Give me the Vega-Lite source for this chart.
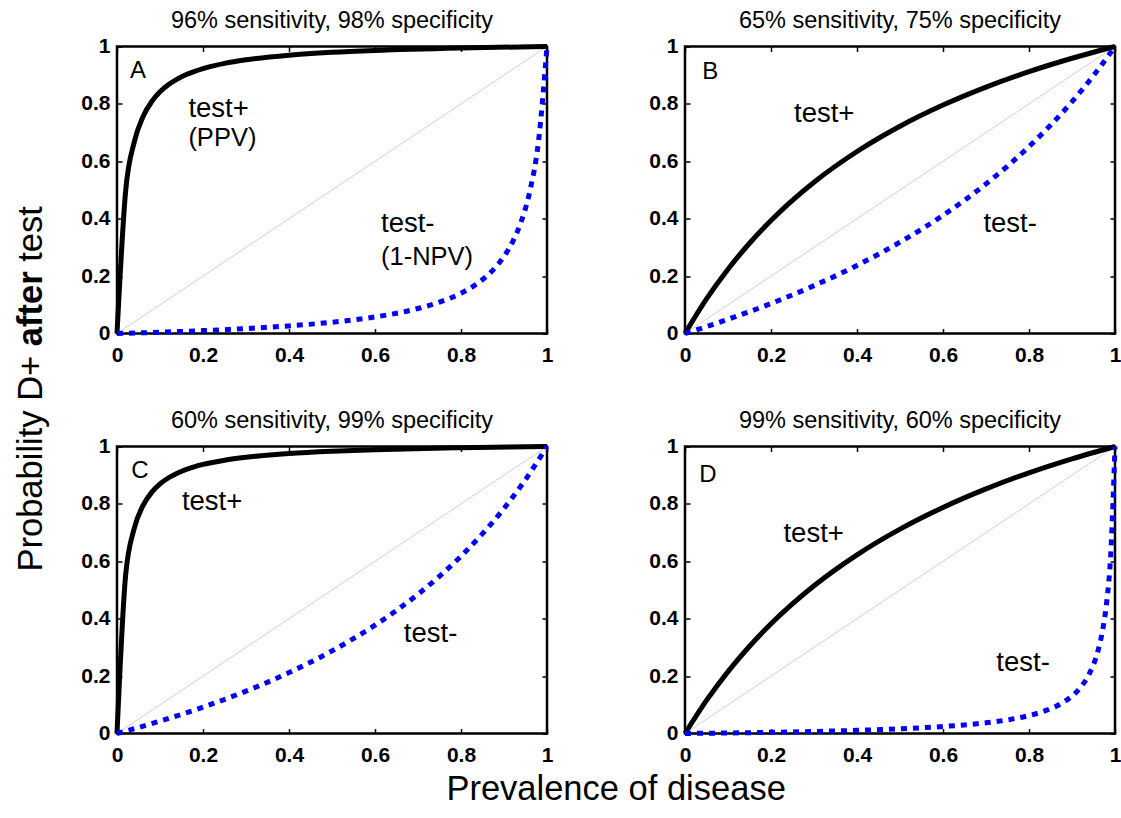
{
  "$schema": "https://vega.github.io/schema/vega-lite/v6.json",
  "padding": {"left": 0, "top": 7.5, "right": 0, "bottom": 4},
  "background": "white",
  "config": {
    "font": "Liberation Sans",
    "view": {"stroke": "black", "strokeWidth": 2.5},
    "axis": {
      "grid": false, "domain": false, "ticks": true, "tickSize": -5, "tickColor": "black", "tickWidth": 1.5,
      "labelFont": "Liberation Sans", "labelFontSize": 21, "labelFontWeight": "bold", "labelColor": "black",
      "labelFlush": false, "minExtent": 0
    },
    "axisX": {"labelPadding": 16},
    "axisY": {"labelPadding": 12},
    "title": {"font": "Liberation Sans", "fontSize": 23.5, "fontWeight": "normal", "color": "black", "baseline": "alphabetic", "offset": 3}
  },
  "title": {"text": "Prevalence of disease", "orient": "bottom", "fontSize": 34.5, "fontWeight": "normal", "baseline": "alphabetic", "offset": 33, "dx": 53, "anchor": "middle"},
  "datasets": {
    "ytitle": [
      {"text": "Probability D+", "part": "plain", "x": 0.7, "y": 0.2358},
      {"text": "after", "part": "bold", "x": 0.7, "y": 0.5638},
      {"text": "test", "part": "plain", "x": 0.7, "y": 0.6866}
    ],
    "labels": [
      {"panel": "A", "kind": "letter", "text": "A", "x": 0.03, "y": 0.889},
      {"panel": "A", "kind": "note", "text": "test+", "x": 0.166, "y": 0.753},
      {"panel": "A", "kind": "sub", "text": "(PPV)", "x": 0.166, "y": 0.652},
      {"panel": "A", "kind": "note", "text": "test-", "x": 0.614, "y": 0.352},
      {"panel": "A", "kind": "sub", "text": "(1-NPV)", "x": 0.614, "y": 0.24},
      {"panel": "B", "kind": "letter", "text": "B", "x": 0.04, "y": 0.886},
      {"panel": "B", "kind": "note", "text": "test+", "x": 0.2535, "y": 0.738},
      {"panel": "B", "kind": "note", "text": "test-", "x": 0.694, "y": 0.355},
      {"panel": "C", "kind": "letter", "text": "C", "x": 0.033, "y": 0.889},
      {"panel": "C", "kind": "note", "text": "test+", "x": 0.151, "y": 0.778},
      {"panel": "C", "kind": "note", "text": "test-", "x": 0.667, "y": 0.32},
      {"panel": "D", "kind": "letter", "text": "D", "x": 0.033, "y": 0.877},
      {"panel": "D", "kind": "note", "text": "test+", "x": 0.229, "y": 0.667},
      {"panel": "D", "kind": "note", "text": "test-", "x": 0.724, "y": 0.218}
    ],
    "diag": [{"p": 0, "v": 0}, {"p": 1, "v": 1}],
    "curves": [
      {"panel": "A", "series": "pos", "p": 0, "v": 0},
      {"panel": "A", "series": "pos", "p": 0.02, "v": 0.4948},
      {"panel": "A", "series": "pos", "p": 0.04, "v": 0.6667},
      {"panel": "A", "series": "pos", "p": 0.06, "v": 0.7539},
      {"panel": "A", "series": "pos", "p": 0.08, "v": 0.8067},
      {"panel": "A", "series": "pos", "p": 0.1, "v": 0.8421},
      {"panel": "A", "series": "pos", "p": 0.12, "v": 0.8675},
      {"panel": "A", "series": "pos", "p": 0.14, "v": 0.8865},
      {"panel": "A", "series": "pos", "p": 0.16, "v": 0.9014},
      {"panel": "A", "series": "pos", "p": 0.2, "v": 0.9231},
      {"panel": "A", "series": "pos", "p": 0.25, "v": 0.9412},
      {"panel": "A", "series": "pos", "p": 0.3, "v": 0.9536},
      {"panel": "A", "series": "pos", "p": 0.4, "v": 0.9697},
      {"panel": "A", "series": "pos", "p": 0.5, "v": 0.9796},
      {"panel": "A", "series": "pos", "p": 0.6, "v": 0.9863},
      {"panel": "A", "series": "pos", "p": 0.8, "v": 0.9948},
      {"panel": "A", "series": "pos", "p": 1, "v": 1},
      {"panel": "A", "series": "neg", "p": 0, "v": 0},
      {"panel": "A", "series": "neg", "p": 0.1, "v": 0.0045},
      {"panel": "A", "series": "neg", "p": 0.2, "v": 0.0101},
      {"panel": "A", "series": "neg", "p": 0.3, "v": 0.0172},
      {"panel": "A", "series": "neg", "p": 0.4, "v": 0.0265},
      {"panel": "A", "series": "neg", "p": 0.5, "v": 0.0392},
      {"panel": "A", "series": "neg", "p": 0.6, "v": 0.0577},
      {"panel": "A", "series": "neg", "p": 0.7, "v": 0.087},
      {"panel": "A", "series": "neg", "p": 0.75, "v": 0.1091},
      {"panel": "A", "series": "neg", "p": 0.8, "v": 0.1404},
      {"panel": "A", "series": "neg", "p": 0.84, "v": 0.1765},
      {"panel": "A", "series": "neg", "p": 0.88, "v": 0.2304},
      {"panel": "A", "series": "neg", "p": 0.9, "v": 0.2687},
      {"panel": "A", "series": "neg", "p": 0.92, "v": 0.3194},
      {"panel": "A", "series": "neg", "p": 0.94, "v": 0.39},
      {"panel": "A", "series": "neg", "p": 0.96, "v": 0.4949},
      {"panel": "A", "series": "neg", "p": 0.98, "v": 0.6667},
      {"panel": "A", "series": "neg", "p": 1, "v": 1},
      {"panel": "B", "series": "pos", "p": 0, "v": 0},
      {"panel": "B", "series": "pos", "p": 0.05, "v": 0.1204},
      {"panel": "B", "series": "pos", "p": 0.1, "v": 0.2241},
      {"panel": "B", "series": "pos", "p": 0.15, "v": 0.3145},
      {"panel": "B", "series": "pos", "p": 0.2, "v": 0.3939},
      {"panel": "B", "series": "pos", "p": 0.3, "v": 0.527},
      {"panel": "B", "series": "pos", "p": 0.4, "v": 0.6341},
      {"panel": "B", "series": "pos", "p": 0.5, "v": 0.7222},
      {"panel": "B", "series": "pos", "p": 0.6, "v": 0.7959},
      {"panel": "B", "series": "pos", "p": 0.7, "v": 0.8585},
      {"panel": "B", "series": "pos", "p": 0.8, "v": 0.9123},
      {"panel": "B", "series": "pos", "p": 0.9, "v": 0.959},
      {"panel": "B", "series": "pos", "p": 1, "v": 1},
      {"panel": "B", "series": "neg", "p": 0, "v": 0},
      {"panel": "B", "series": "neg", "p": 0.1, "v": 0.0493},
      {"panel": "B", "series": "neg", "p": 0.2, "v": 0.1045},
      {"panel": "B", "series": "neg", "p": 0.3, "v": 0.1667},
      {"panel": "B", "series": "neg", "p": 0.4, "v": 0.2373},
      {"panel": "B", "series": "neg", "p": 0.5, "v": 0.3182},
      {"panel": "B", "series": "neg", "p": 0.6, "v": 0.4118},
      {"panel": "B", "series": "neg", "p": 0.7, "v": 0.5213},
      {"panel": "B", "series": "neg", "p": 0.8, "v": 0.6512},
      {"panel": "B", "series": "neg", "p": 0.9, "v": 0.8077},
      {"panel": "B", "series": "neg", "p": 0.95, "v": 0.8986},
      {"panel": "B", "series": "neg", "p": 1, "v": 1},
      {"panel": "C", "series": "pos", "p": 0, "v": 0},
      {"panel": "C", "series": "pos", "p": 0.02, "v": 0.5505},
      {"panel": "C", "series": "pos", "p": 0.04, "v": 0.7143},
      {"panel": "C", "series": "pos", "p": 0.06, "v": 0.793},
      {"panel": "C", "series": "pos", "p": 0.08, "v": 0.8392},
      {"panel": "C", "series": "pos", "p": 0.1, "v": 0.8696},
      {"panel": "C", "series": "pos", "p": 0.12, "v": 0.8911},
      {"panel": "C", "series": "pos", "p": 0.14, "v": 0.9071},
      {"panel": "C", "series": "pos", "p": 0.16, "v": 0.9195},
      {"panel": "C", "series": "pos", "p": 0.2, "v": 0.9375},
      {"panel": "C", "series": "pos", "p": 0.25, "v": 0.9524},
      {"panel": "C", "series": "pos", "p": 0.3, "v": 0.9626},
      {"panel": "C", "series": "pos", "p": 0.4, "v": 0.9756},
      {"panel": "C", "series": "pos", "p": 0.5, "v": 0.9836},
      {"panel": "C", "series": "pos", "p": 0.6, "v": 0.989},
      {"panel": "C", "series": "pos", "p": 0.8, "v": 0.9959},
      {"panel": "C", "series": "pos", "p": 1, "v": 1},
      {"panel": "C", "series": "neg", "p": 0, "v": 0},
      {"panel": "C", "series": "neg", "p": 0.1, "v": 0.043},
      {"panel": "C", "series": "neg", "p": 0.2, "v": 0.0917},
      {"panel": "C", "series": "neg", "p": 0.3, "v": 0.1476},
      {"panel": "C", "series": "neg", "p": 0.4, "v": 0.2122},
      {"panel": "C", "series": "neg", "p": 0.5, "v": 0.2878},
      {"panel": "C", "series": "neg", "p": 0.6, "v": 0.3774},
      {"panel": "C", "series": "neg", "p": 0.7, "v": 0.4853},
      {"panel": "C", "series": "neg", "p": 0.8, "v": 0.6178},
      {"panel": "C", "series": "neg", "p": 0.9, "v": 0.7843},
      {"panel": "C", "series": "neg", "p": 0.95, "v": 0.8848},
      {"panel": "C", "series": "neg", "p": 1, "v": 1},
      {"panel": "D", "series": "pos", "p": 0, "v": 0},
      {"panel": "D", "series": "pos", "p": 0.05, "v": 0.1153},
      {"panel": "D", "series": "pos", "p": 0.1, "v": 0.2157},
      {"panel": "D", "series": "pos", "p": 0.15, "v": 0.304},
      {"panel": "D", "series": "pos", "p": 0.2, "v": 0.3822},
      {"panel": "D", "series": "pos", "p": 0.3, "v": 0.5147},
      {"panel": "D", "series": "pos", "p": 0.4, "v": 0.6226},
      {"panel": "D", "series": "pos", "p": 0.5, "v": 0.7122},
      {"panel": "D", "series": "pos", "p": 0.6, "v": 0.7878},
      {"panel": "D", "series": "pos", "p": 0.7, "v": 0.8524},
      {"panel": "D", "series": "pos", "p": 0.8, "v": 0.9083},
      {"panel": "D", "series": "pos", "p": 0.9, "v": 0.957},
      {"panel": "D", "series": "pos", "p": 1, "v": 1},
      {"panel": "D", "series": "neg", "p": 0, "v": 0},
      {"panel": "D", "series": "neg", "p": 0.1, "v": 0.0018},
      {"panel": "D", "series": "neg", "p": 0.2, "v": 0.0041},
      {"panel": "D", "series": "neg", "p": 0.3, "v": 0.0071},
      {"panel": "D", "series": "neg", "p": 0.4, "v": 0.011},
      {"panel": "D", "series": "neg", "p": 0.5, "v": 0.0164},
      {"panel": "D", "series": "neg", "p": 0.6, "v": 0.0244},
      {"panel": "D", "series": "neg", "p": 0.7, "v": 0.0374},
      {"panel": "D", "series": "neg", "p": 0.75, "v": 0.0476},
      {"panel": "D", "series": "neg", "p": 0.8, "v": 0.0625},
      {"panel": "D", "series": "neg", "p": 0.84, "v": 0.0805},
      {"panel": "D", "series": "neg", "p": 0.88, "v": 0.1089},
      {"panel": "D", "series": "neg", "p": 0.9, "v": 0.1304},
      {"panel": "D", "series": "neg", "p": 0.92, "v": 0.1608},
      {"panel": "D", "series": "neg", "p": 0.94, "v": 0.2071},
      {"panel": "D", "series": "neg", "p": 0.96, "v": 0.2857},
      {"panel": "D", "series": "neg", "p": 0.97, "v": 0.3502},
      {"panel": "D", "series": "neg", "p": 0.98, "v": 0.4495},
      {"panel": "D", "series": "neg", "p": 0.99, "v": 0.6226},
      {"panel": "D", "series": "neg", "p": 1, "v": 1}
    ]
  },
  "bounds": "flush",
  "spacing": 57,
  "hconcat": [
    {
      "width": 60,
      "height": 687,
      "view": {"stroke": null, "fill": "white"},
      "data": {"name": "ytitle"},
      "layer": [
        {
          "transform": [{"filter": "datum.part === 'plain'"}],
          "mark": {"type": "text", "angle": 270, "align": "left", "baseline": "alphabetic", "fontSize": 34.5, "fontWeight": "normal", "color": "black"},
          "encoding": {
            "x": {"field": "x", "type": "quantitative", "scale": {"domain": [0, 1], "nice": false}, "axis": null},
            "y": {"field": "y", "type": "quantitative", "scale": {"domain": [0, 1], "nice": false}, "axis": null},
            "text": {"field": "text"}
          }
        },
        {
          "transform": [{"filter": "datum.part === 'bold'"}],
          "mark": {"type": "text", "angle": 270, "align": "left", "baseline": "alphabetic", "fontSize": 34.5, "fontWeight": "bold", "color": "black"},
          "encoding": {
            "x": {"field": "x", "type": "quantitative", "axis": null},
            "y": {"field": "y", "type": "quantitative", "axis": null},
            "text": {"field": "text"}
          }
        }
      ]
    },
    {
      "columns": 2,
      "spacing": {"row": 113, "column": 138},
      "bounds": "flush",
      "concat": [
        {
          "width": 430, "height": 287,
          "title": {"text": "96% sensitivity, 98% specificity"},
          "layer": [
            {"data": {"name": "diag"}, "mark": {"type": "line", "color": "#d0d0d0", "strokeWidth": 1},
             "encoding": {
               "x": {"field": "p", "type": "quantitative", "scale": {"domain": [0, 1], "nice": false}, "axis": {"orient": "top", "labels": false, "values": [0, 0.2, 0.4, 0.6, 0.8, 1], "title": null}},
               "y": {"field": "v", "type": "quantitative", "scale": {"domain": [0, 1], "nice": false}, "axis": {"orient": "right", "labels": false, "values": [0, 0.2, 0.4, 0.6, 0.8, 1], "title": null}}}},
            {"data": {"name": "curves"}, "transform": [{"filter": "datum.panel === 'A' && datum.series === 'pos'"}],
             "mark": {"type": "line", "color": "black", "strokeWidth": 5, "interpolate": "monotone"},
             "encoding": {
               "x": {"field": "p", "type": "quantitative", "axis": {"orient": "bottom", "values": [0, 0.2, 0.4, 0.6, 0.8, 1], "format": "~g", "title": null}},
               "y": {"field": "v", "type": "quantitative", "axis": {"orient": "left", "values": [0, 0.2, 0.4, 0.6, 0.8, 1], "format": "~g", "title": null}}}},
            {"data": {"name": "curves"}, "transform": [{"filter": "datum.panel === 'A' && datum.series === 'neg'"}],
             "mark": {"type": "line", "color": "#0000ff", "strokeWidth": 5, "strokeDash": [6, 6], "interpolate": "monotone"},
             "encoding": {"x": {"field": "p", "type": "quantitative", "axis": null}, "y": {"field": "v", "type": "quantitative", "axis": null}}},
            {"data": {"name": "labels"}, "transform": [{"filter": "datum.panel === 'A' && datum.kind === 'letter'"}],
             "mark": {"type": "text", "align": "left", "baseline": "alphabetic", "fontSize": 24, "color": "black"},
             "encoding": {"x": {"field": "x", "type": "quantitative", "axis": null}, "y": {"field": "y", "type": "quantitative", "axis": null}, "text": {"field": "text"}}},
            {"data": {"name": "labels"}, "transform": [{"filter": "datum.panel === 'A' && datum.kind === 'note'"}],
             "mark": {"type": "text", "align": "left", "baseline": "alphabetic", "fontSize": 27.5, "color": "black"},
             "encoding": {"x": {"field": "x", "type": "quantitative", "axis": null}, "y": {"field": "y", "type": "quantitative", "axis": null}, "text": {"field": "text"}}},
            {"data": {"name": "labels"}, "transform": [{"filter": "datum.panel === 'A' && datum.kind === 'sub'"}],
             "mark": {"type": "text", "align": "left", "baseline": "alphabetic", "fontSize": 25.5, "color": "black"},
             "encoding": {"x": {"field": "x", "type": "quantitative", "axis": null}, "y": {"field": "y", "type": "quantitative", "axis": null}, "text": {"field": "text"}}}
          ],
          "resolve": {"axis": {"x": "independent", "y": "independent"}}
        },
        {
          "width": 430, "height": 287,
          "title": {"text": "65% sensitivity, 75% specificity"},
          "layer": [
            {"data": {"name": "diag"}, "mark": {"type": "line", "color": "#d0d0d0", "strokeWidth": 1},
             "encoding": {
               "x": {"field": "p", "type": "quantitative", "scale": {"domain": [0, 1], "nice": false}, "axis": {"orient": "top", "labels": false, "values": [0, 0.2, 0.4, 0.6, 0.8, 1], "title": null}},
               "y": {"field": "v", "type": "quantitative", "scale": {"domain": [0, 1], "nice": false}, "axis": {"orient": "right", "labels": false, "values": [0, 0.2, 0.4, 0.6, 0.8, 1], "title": null}}}},
            {"data": {"name": "curves"}, "transform": [{"filter": "datum.panel === 'B' && datum.series === 'pos'"}],
             "mark": {"type": "line", "color": "black", "strokeWidth": 5, "interpolate": "monotone"},
             "encoding": {
               "x": {"field": "p", "type": "quantitative", "axis": {"orient": "bottom", "values": [0, 0.2, 0.4, 0.6, 0.8, 1], "format": "~g", "title": null}},
               "y": {"field": "v", "type": "quantitative", "axis": {"orient": "left", "values": [0, 0.2, 0.4, 0.6, 0.8, 1], "format": "~g", "title": null}}}},
            {"data": {"name": "curves"}, "transform": [{"filter": "datum.panel === 'B' && datum.series === 'neg'"}],
             "mark": {"type": "line", "color": "#0000ff", "strokeWidth": 5, "strokeDash": [6, 6], "interpolate": "monotone"},
             "encoding": {"x": {"field": "p", "type": "quantitative", "axis": null}, "y": {"field": "v", "type": "quantitative", "axis": null}}},
            {"data": {"name": "labels"}, "transform": [{"filter": "datum.panel === 'B' && datum.kind === 'letter'"}],
             "mark": {"type": "text", "align": "left", "baseline": "alphabetic", "fontSize": 24, "color": "black"},
             "encoding": {"x": {"field": "x", "type": "quantitative", "axis": null}, "y": {"field": "y", "type": "quantitative", "axis": null}, "text": {"field": "text"}}},
            {"data": {"name": "labels"}, "transform": [{"filter": "datum.panel === 'B' && datum.kind === 'note'"}],
             "mark": {"type": "text", "align": "left", "baseline": "alphabetic", "fontSize": 27.5, "color": "black"},
             "encoding": {"x": {"field": "x", "type": "quantitative", "axis": null}, "y": {"field": "y", "type": "quantitative", "axis": null}, "text": {"field": "text"}}}
          ],
          "resolve": {"axis": {"x": "independent", "y": "independent"}}
        },
        {
          "width": 430, "height": 287,
          "title": {"text": "60% sensitivity, 99% specificity"},
          "layer": [
            {"data": {"name": "diag"}, "mark": {"type": "line", "color": "#d0d0d0", "strokeWidth": 1},
             "encoding": {
               "x": {"field": "p", "type": "quantitative", "scale": {"domain": [0, 1], "nice": false}, "axis": {"orient": "top", "labels": false, "values": [0, 0.2, 0.4, 0.6, 0.8, 1], "title": null}},
               "y": {"field": "v", "type": "quantitative", "scale": {"domain": [0, 1], "nice": false}, "axis": {"orient": "right", "labels": false, "values": [0, 0.2, 0.4, 0.6, 0.8, 1], "title": null}}}},
            {"data": {"name": "curves"}, "transform": [{"filter": "datum.panel === 'C' && datum.series === 'pos'"}],
             "mark": {"type": "line", "color": "black", "strokeWidth": 5, "interpolate": "monotone"},
             "encoding": {
               "x": {"field": "p", "type": "quantitative", "axis": {"orient": "bottom", "values": [0, 0.2, 0.4, 0.6, 0.8, 1], "format": "~g", "title": null}},
               "y": {"field": "v", "type": "quantitative", "axis": {"orient": "left", "values": [0, 0.2, 0.4, 0.6, 0.8, 1], "format": "~g", "title": null}}}},
            {"data": {"name": "curves"}, "transform": [{"filter": "datum.panel === 'C' && datum.series === 'neg'"}],
             "mark": {"type": "line", "color": "#0000ff", "strokeWidth": 5, "strokeDash": [6, 6], "interpolate": "monotone"},
             "encoding": {"x": {"field": "p", "type": "quantitative", "axis": null}, "y": {"field": "v", "type": "quantitative", "axis": null}}},
            {"data": {"name": "labels"}, "transform": [{"filter": "datum.panel === 'C' && datum.kind === 'letter'"}],
             "mark": {"type": "text", "align": "left", "baseline": "alphabetic", "fontSize": 24, "color": "black"},
             "encoding": {"x": {"field": "x", "type": "quantitative", "axis": null}, "y": {"field": "y", "type": "quantitative", "axis": null}, "text": {"field": "text"}}},
            {"data": {"name": "labels"}, "transform": [{"filter": "datum.panel === 'C' && datum.kind === 'note'"}],
             "mark": {"type": "text", "align": "left", "baseline": "alphabetic", "fontSize": 27.5, "color": "black"},
             "encoding": {"x": {"field": "x", "type": "quantitative", "axis": null}, "y": {"field": "y", "type": "quantitative", "axis": null}, "text": {"field": "text"}}}
          ],
          "resolve": {"axis": {"x": "independent", "y": "independent"}}
        },
        {
          "width": 430, "height": 287,
          "title": {"text": "99% sensitivity, 60% specificity"},
          "layer": [
            {"data": {"name": "diag"}, "mark": {"type": "line", "color": "#d0d0d0", "strokeWidth": 1},
             "encoding": {
               "x": {"field": "p", "type": "quantitative", "scale": {"domain": [0, 1], "nice": false}, "axis": {"orient": "top", "labels": false, "values": [0, 0.2, 0.4, 0.6, 0.8, 1], "title": null}},
               "y": {"field": "v", "type": "quantitative", "scale": {"domain": [0, 1], "nice": false}, "axis": {"orient": "right", "labels": false, "values": [0, 0.2, 0.4, 0.6, 0.8, 1], "title": null}}}},
            {"data": {"name": "curves"}, "transform": [{"filter": "datum.panel === 'D' && datum.series === 'pos'"}],
             "mark": {"type": "line", "color": "black", "strokeWidth": 5, "interpolate": "monotone"},
             "encoding": {
               "x": {"field": "p", "type": "quantitative", "axis": {"orient": "bottom", "values": [0, 0.2, 0.4, 0.6, 0.8, 1], "format": "~g", "title": null}},
               "y": {"field": "v", "type": "quantitative", "axis": {"orient": "left", "values": [0, 0.2, 0.4, 0.6, 0.8, 1], "format": "~g", "title": null}}}},
            {"data": {"name": "curves"}, "transform": [{"filter": "datum.panel === 'D' && datum.series === 'neg'"}],
             "mark": {"type": "line", "color": "#0000ff", "strokeWidth": 5, "strokeDash": [6, 6], "interpolate": "monotone"},
             "encoding": {"x": {"field": "p", "type": "quantitative", "axis": null}, "y": {"field": "v", "type": "quantitative", "axis": null}}},
            {"data": {"name": "labels"}, "transform": [{"filter": "datum.panel === 'D' && datum.kind === 'letter'"}],
             "mark": {"type": "text", "align": "left", "baseline": "alphabetic", "fontSize": 24, "color": "black"},
             "encoding": {"x": {"field": "x", "type": "quantitative", "axis": null}, "y": {"field": "y", "type": "quantitative", "axis": null}, "text": {"field": "text"}}},
            {"data": {"name": "labels"}, "transform": [{"filter": "datum.panel === 'D' && datum.kind === 'note'"}],
             "mark": {"type": "text", "align": "left", "baseline": "alphabetic", "fontSize": 27.5, "color": "black"},
             "encoding": {"x": {"field": "x", "type": "quantitative", "axis": null}, "y": {"field": "y", "type": "quantitative", "axis": null}, "text": {"field": "text"}}}
          ],
          "resolve": {"axis": {"x": "independent", "y": "independent"}}
        }
      ]
    }
  ]
}
